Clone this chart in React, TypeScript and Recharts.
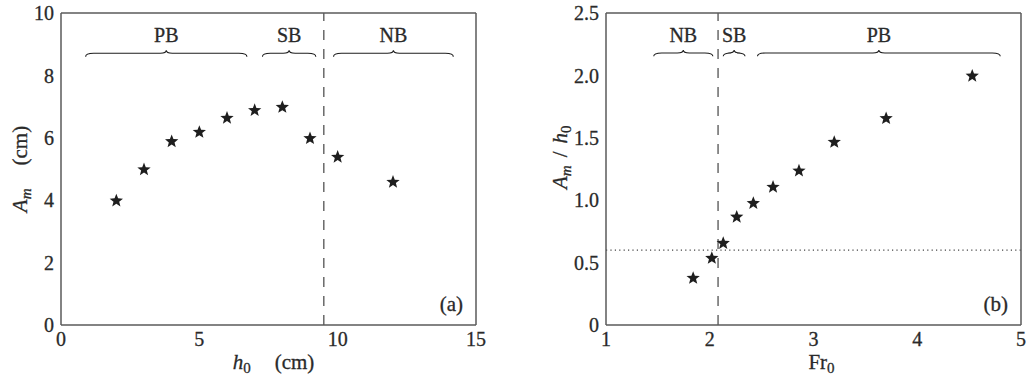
import React from "react";
import {
  ScatterChart,
  Scatter,
  XAxis,
  YAxis,
  ReferenceLine,
} from "recharts";

// panel (a): peak amplitude vs. depth
const depthCm = [2, 3, 4, 5, 6, 7, 8, 9, 10, 12];
const amplitudeCm = [4.0, 5.0, 5.9, 6.2, 6.65, 6.9, 7.0, 6.0, 5.4, 4.6];

// panel (b): relative amplitude vs. Froude number
const froude = [1.84, 2.02, 2.13, 2.26, 2.42, 2.61, 2.86, 3.2, 3.7, 4.53];
const relAmplitude = [0.38, 0.54, 0.66, 0.87, 0.98, 1.11, 1.24, 1.47, 1.66, 2.0];

const xTicksA = [0, 5, 10, 15];
const yTicksA = [0, 2, 4, 6, 8, 10];
const xTicksB = [1, 2, 3, 4, 5];
const yTicksB = [0, 0.5, 1.0, 1.5, 2.0, 2.5];

// regime braces
const braceLabelsA = ["PB", "SB", "NB"];
const braceStartA = [0.89, 7.28, 9.85];
const braceEndA = [6.72, 9.21, 14.18];
const braceLevelA = 8.71;
const boundaryA = 9.5;

const braceLabelsB = ["NB", "SB", "PB"];
const braceStartB = [1.46, 2.13, 2.46];
const braceEndB = [2.03, 2.34, 4.8];
const braceLevelB = 2.18;
const boundaryB = 2.08;
const thresholdB = 0.6;

const FONT = "Liberation Serif";
const AXIS = "#5a5a5a";
const INK = "#1e1e1e";
const TEXT = "#2a2a2a";
const TICK_FS = 20;
const TITLE_FS = 21;
const SUB_FS = 15;

const dataA = depthCm.map((x, i) => ({ x, y: amplitudeCm[i] }));
const dataB = froude.map((x, i) => ({ x, y: relAmplitude[i] }));

const Star = (props: any) => {
  const { cx, cy } = props;
  if (cx == null || cy == null) return null;
  const R = 7;
  const r = 3;
  let d = "";
  for (let i = 0; i < 10; i++) {
    const rad = i % 2 === 0 ? R : r;
    const a = -Math.PI / 2 + (i * Math.PI) / 5;
    d += (i === 0 ? "M" : "L") + (cx + rad * Math.cos(a)).toFixed(2) + "," + (cy + 0.6 + rad * Math.sin(a)).toFixed(2);
  }
  return <path d={d + "Z"} fill={INK} />;
};

const textProps = {
  fontFamily: FONT,
  fill: TEXT,
  stroke: TEXT,
  strokeWidth: 0.3,
};

const braceShape = (label: string) => (props: any) => {
  const { x1, x2, y1 } = props;
  if (x1 == null || x2 == null) return <g />;
  const y = y1;
  const xm = (x1 + x2) / 2;
  const d =
    `M${x1},${y + 3.4} C${x1},${y + 1} ${x1 + 2},${y} ${x1 + 8},${y} ` +
    `L${xm - 6},${y} C${xm - 2},${y} ${xm},${y - 0.8} ${xm},${y - 3} ` +
    `C${xm},${y - 0.8} ${xm + 2},${y} ${xm + 6},${y} ` +
    `L${x2 - 8},${y} C${x2 - 2},${y} ${x2},${y + 1} ${x2},${y + 3.4}`;
  return (
    <g>
      <path d={d} fill="none" stroke={INK} strokeWidth={1.1} />
      <text x={xm} y={y - 11} textAnchor="middle" fontSize={20} {...textProps}>
        {label}
      </text>
    </g>
  );
};

const tickStyle = { fontSize: TICK_FS, ...textProps };

interface PanelProps {
  data: { x: number; y: number }[];
  xDomain: [number, number];
  yDomain: [number, number];
  xTicks: number[];
  yTicks: number[];
  yFormat: (v: number) => string;
  yAxisWidth: number;
  rightMargin: number;
  xTitle: (cx: number, y: number) => React.ReactNode;
  yTitle: (x: number, cy: number) => React.ReactNode;
  tag: string;
  children?: React.ReactNode;
}

const Panel = ({
  data,
  xDomain,
  yDomain,
  xTicks,
  yTicks,
  yFormat,
  yAxisWidth,
  rightMargin,
  xTitle,
  yTitle,
  tag,
  children,
}: PanelProps) => (
  <ScatterChart
    width={514}
    height={376}
    margin={{ top: 13, right: rightMargin, bottom: 0, left: 0 }}
  >
    {/* labelled axes */}
    <XAxis
      xAxisId="b"
      dataKey="x"
      type="number"
      domain={xDomain}
      ticks={xTicks}
      allowDataOverflow
      height={51}
      tickLine={false}
      tickSize={0}
      tickMargin={7}
      axisLine={{ stroke: AXIS, strokeWidth: 1.5 }}
      tick={tickStyle}
      label={{
        content: (p: any) => {
          const vb = p.viewBox || {};
          return (
            <g>
              {xTitle(vb.x + vb.width / 2, vb.y)}
              <text
                x={vb.x + vb.width - 13}
                y={vb.y - 14}
                textAnchor="end"
                fontSize={TITLE_FS}
                {...textProps}
              >
                {tag}
              </text>
            </g>
          );
        },
      }}
    />
    <YAxis
      yAxisId="l"
      dataKey="y"
      type="number"
      domain={yDomain}
      ticks={yTicks}
      allowDataOverflow
      width={yAxisWidth}
      tickLine={false}
      tickSize={0}
      tickMargin={7}
      tickFormatter={yFormat}
      axisLine={{ stroke: AXIS, strokeWidth: 1.5 }}
      tick={tickStyle}
      label={{
        content: (p: any) => {
          const vb = p.viewBox || {};
          return yTitle(vb.x, vb.y + vb.height / 2);
        },
      }}
    />
    {/* inward tick marks and box */}
    <XAxis
      xAxisId="bm"
      type="number"
      orientation="bottom"
      mirror
      domain={xDomain}
      ticks={xTicks}
      allowDataOverflow
      height={10}
      tick={false}
      tickSize={5}
      axisLine={false}
      tickLine={{ stroke: INK, strokeWidth: 1.2 }}
    />
    <XAxis
      xAxisId="t"
      type="number"
      orientation="top"
      mirror
      domain={xDomain}
      ticks={xTicks}
      allowDataOverflow
      height={10}
      tick={false}
      tickSize={5}
      axisLine={{ stroke: AXIS, strokeWidth: 1.5 }}
      tickLine={{ stroke: INK, strokeWidth: 1.2 }}
    />
    <YAxis
      yAxisId="lm"
      type="number"
      orientation="left"
      mirror
      domain={yDomain}
      ticks={yTicks}
      allowDataOverflow
      width={10}
      tick={false}
      tickSize={5}
      axisLine={false}
      tickLine={{ stroke: INK, strokeWidth: 1.2 }}
    />
    <YAxis
      yAxisId="r"
      type="number"
      orientation="right"
      mirror
      domain={yDomain}
      ticks={yTicks}
      allowDataOverflow
      width={10}
      tick={false}
      tickSize={5}
      axisLine={{ stroke: AXIS, strokeWidth: 1.5 }}
      tickLine={{ stroke: INK, strokeWidth: 1.2 }}
    />
    {children}
    <Scatter
      data={data}
      xAxisId="b"
      yAxisId="l"
      dataKey="y"
      shape={Star}
      isAnimationActive={false}
    />
  </ScatterChart>
);

const titleText = { fontSize: TITLE_FS, ...textProps };

export default function App() {
  return (
    <div style={{ position: "absolute", left: 0, top: 0, width: 1028, height: 376, display: "flex", background: "#fff" }}>
      <Panel
        data={dataA}
        xDomain={[0, 15]}
        yDomain={[0, 10]}
        xTicks={xTicksA}
        yTicks={yTicksA}
        yFormat={(v) => String(v)}
        yAxisWidth={61}
        rightMargin={38}
        tag="(a)"
        xTitle={(cx, y) => (
          <text x={cx + 5} y={y + 44} textAnchor="middle" {...titleText}>
            <tspan fontStyle="italic">h</tspan>
            <tspan fontSize={SUB_FS} dy={3.5}>0</tspan>
            <tspan dy={-3.5} dx={24}>(cm)</tspan>
          </text>
        )}
        yTitle={(x, cy) => (
          <text transform={`translate(${x + 27},${cy}) rotate(-90)`} textAnchor="middle" {...titleText}>
            <tspan fontStyle="italic">A</tspan>
            <tspan fontStyle="italic" fontSize={SUB_FS} dy={4}>m</tspan>
            <tspan dy={-4} dx={23}>(cm)</tspan>
          </text>
        )}
      >
        <ReferenceLine
          xAxisId="b"
          yAxisId="l"
          x={boundaryA}
          stroke="#444"
          strokeWidth={1.2}
          strokeDasharray="10 9"
        />
        {braceLabelsA.map((lab, i) => (
          <ReferenceLine
            key={lab}
            xAxisId="b"
            yAxisId="l"
            segment={[
              { x: braceStartA[i], y: braceLevelA },
              { x: braceEndA[i], y: braceLevelA },
            ]}
            shape={braceShape(lab)}
          />
        ))}
      </Panel>
      <Panel
        data={dataB}
        xDomain={[1, 5]}
        yDomain={[0, 2.5]}
        xTicks={xTicksB}
        yTicks={yTicksB}
        yFormat={(v) => (v === 0 ? "0" : v.toFixed(1))}
        yAxisWidth={92}
        rightMargin={7}
        tag="(b)"
        xTitle={(cx, y) => (
          <text x={cx + 8} y={y + 44} textAnchor="middle" {...titleText}>
            <tspan>Fr</tspan>
            <tspan fontSize={SUB_FS} dy={3.5}>0</tspan>
          </text>
        )}
        yTitle={(x, cy) => (
          <text transform={`translate(${x + 53},${cy + 20}) rotate(-90)`} textAnchor="start" {...titleText}>
            <tspan fontStyle="italic">A</tspan>
            <tspan fontStyle="italic" fontSize={SUB_FS} dy={4}>m</tspan>
            <tspan dy={-4} dx={8}>/</tspan>
            <tspan fontStyle="italic" dx={8}>h</tspan>
            <tspan fontSize={SUB_FS} dy={4}>0</tspan>
          </text>
        )}
      >
        <ReferenceLine
          xAxisId="b"
          yAxisId="l"
          y={thresholdB}
          stroke="#444"
          strokeWidth={1.2}
          strokeDasharray="1.2 3.2"
        />
        <ReferenceLine
          xAxisId="b"
          yAxisId="l"
          x={boundaryB}
          stroke="#444"
          strokeWidth={1.2}
          strokeDasharray="10 9"
        />
        {braceLabelsB.map((lab, i) => (
          <ReferenceLine
            key={lab}
            xAxisId="b"
            yAxisId="l"
            segment={[
              { x: braceStartB[i], y: braceLevelB },
              { x: braceEndB[i], y: braceLevelB },
            ]}
            shape={braceShape(lab)}
          />
        ))}
      </Panel>
    </div>
  );
}
